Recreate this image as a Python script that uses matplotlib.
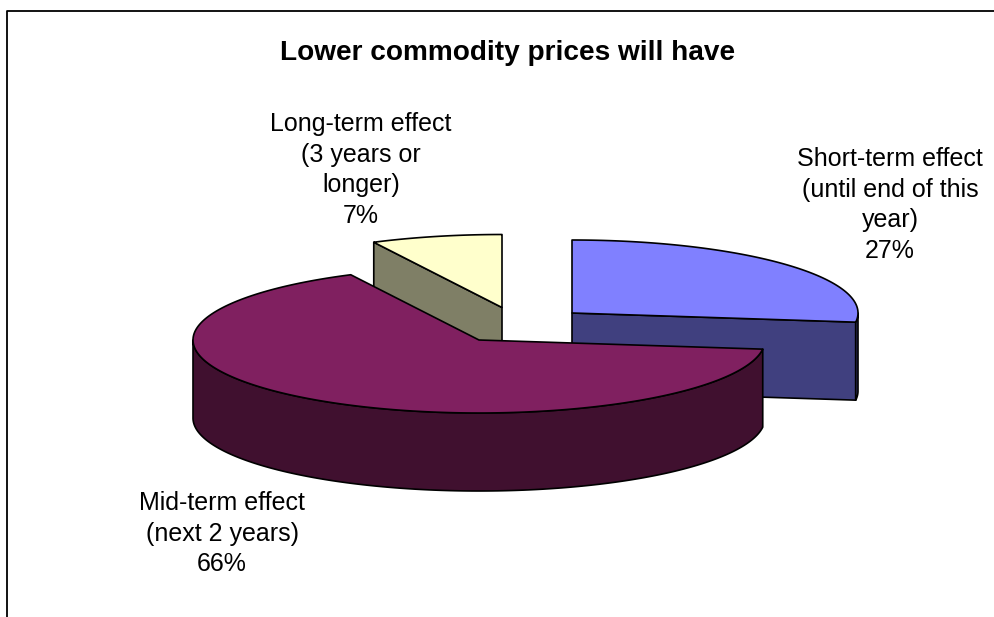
import numpy as np
import matplotlib
matplotlib.use('Agg')
import matplotlib.pyplot as plt

plt.rcParams['font.family'] = ['Liberation Sans', 'DejaVu Sans']

title = 'Lower commodity prices will have'
labels = ['Short-term effect\n(until end of this\nyear)',
          'Mid-term effect\n(next 2 years)',
          'Long-term effect\n(3 years or\nlonger)']
values = [27.0, 65.6, 7.4]
top_colors = ['#8080ff', '#802060', '#ffffcc']
side_colors = ['#40407f', '#40102f', '#7f7f66']
# pie centre of every exploded slice, in pixels
centres = [(572, 313), (479, 340), (502, 307.5)]
label_pos = [(890, 205), (222, 533.5), (361, 170)]

rx, ry, depth = 286, 73, 78

fig = plt.figure(figsize=(9.95, 6.17), dpi=100)
ax = fig.add_axes([0, 0, 1, 1])
ax.set_xlim(0, 995)
ax.set_ylim(617, 0)
ax.axis('off')

# chart frame, cut off by the image on the right and at the bottom
ax.plot([6.5, 6.5, 995], [617, 11, 11], color='black', lw=1.3, solid_capstyle='butt')


def rim(c, a0, a1):
    t = np.radians(np.linspace(a0, a1, 200))
    return c[0] + rx * np.sin(t), c[1] - ry * np.cos(t)


def poly(x, y, color, z):
    ax.fill(x, y, facecolor=color, edgecolor='black', lw=1.2, joinstyle='round', zorder=z)


bounds = np.cumsum([0] + values) * 3.6
# back to front: the long-term slice sits behind the mid-term one
for i, z in [(0, 1), (2, 2), (1, 3)]:
    c = centres[i]
    a0, a1 = bounds[i], bounds[i + 1]
    # cut faces that look towards the viewer
    if i == 0:
        ex, ey = rim(c, a1, a1)
        poly([c[0], ex[0], ex[0], c[0]], [c[1], ey[0], ey[0] + depth, c[1] + depth], side_colors[i], z)
    if i == 2:
        ex, ey = rim(c, a0, a0)
        poly([c[0], ex[0], ex[0], c[0]], [c[1], ey[0], ey[0] + depth, c[1] + depth], side_colors[i], z)
    # outer wall, only the front half of the ellipse shows
    f0, f1 = max(a0, 90), min(a1, 270)
    if f1 > f0:
        x, y = rim(c, f0, f1)
        poly(np.r_[x, x[::-1]], np.r_[y, y[::-1] + depth], side_colors[i], z)
    # top face
    x, y = rim(c, a0, a1)
    poly(np.r_[c[0], x], np.r_[c[1], y], top_colors[i], z)

ax.text(508, 53.5, title, fontsize=20.2, fontweight='bold', ha='center', va='center')
for lab, v, p in zip(labels, values, label_pos):
    ax.text(p[0], p[1], f'{lab}\n{v:.0f}%', fontsize=18, ha='center', va='center', linespacing=1.35)

fig.savefig('out.png', dpi=100, facecolor='white')
